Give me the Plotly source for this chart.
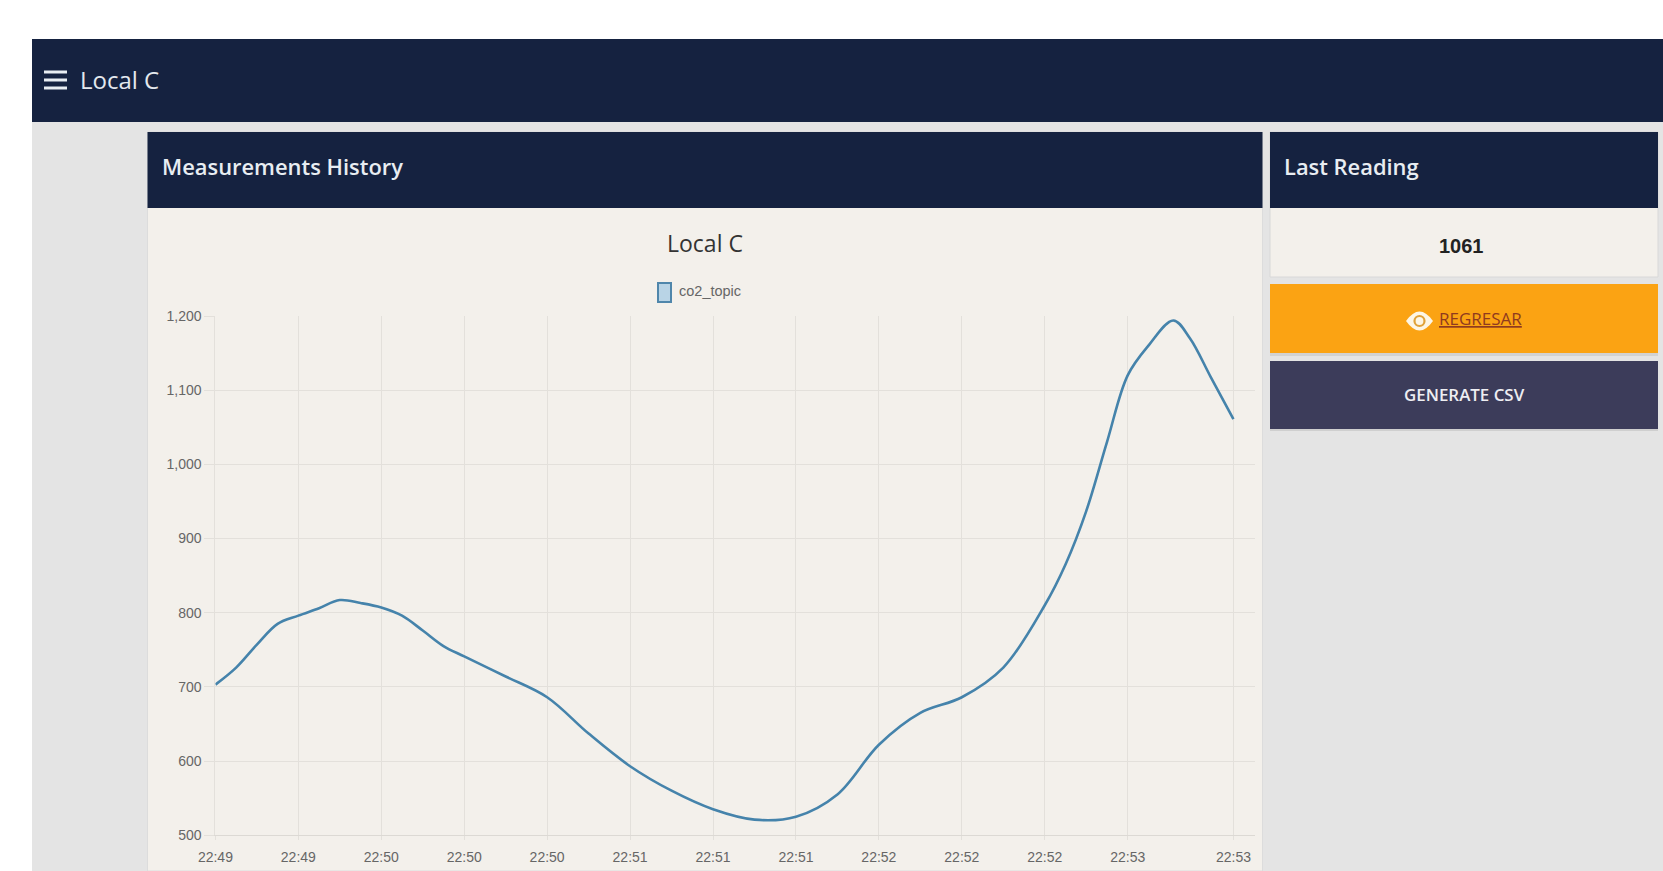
import plotly.graph_objects as go

W, H = 1663, 871
DAY = "2024-01-01 "

series_name = "co2_topic"
times = ["22:49:20","22:49:25","22:49:30","22:49:35","22:49:40","22:49:45","22:49:50","22:49:55",
         "22:50:00","22:50:05","22:50:10","22:50:15","22:50:20","22:50:30","22:50:40","22:50:50",
         "22:51:00","22:51:10","22:51:20","22:51:30","22:51:40","22:51:50","22:52:00","22:52:10",
         "22:52:20","22:52:30","22:52:40","22:52:45","22:52:50","22:52:55","22:53:00","22:53:05",
         "22:53:11","22:53:15","22:53:20","22:53:25.5"]
values = [703,726,757,785,796,806,817,813,
          807,796,776,755,741,714,686,637,
          593,560,535,521,525,555,622,665,
          686,726,810,865,937,1030,1120,1160,
          1194,1170,1118,1061]
tick_times = ["22:49:20","22:49:40","22:50:00","22:50:20","22:50:40","22:51:00","22:51:20",
              "22:51:40","22:52:00","22:52:20","22:52:40","22:53:00","22:53:25.5"]
tick_labels = ["22:49","22:49","22:50","22:50","22:50","22:51","22:51",
               "22:51","22:52","22:52","22:52","22:53","22:53"]
y_ticks = [500,600,700,800,900,1000,1100,1200]

NAVY, CARD, PAGE = "#152240", "#f3f0eb", "#e4e4e4"
GRID = "#e3e0db"
LINE = "#4583ab"

def px(x): return x / W
def py(y): return 1 - y / H

def rect(x0, y0, x1, y1, fill, line=None, lw=1):
    return dict(type="rect", xref="paper", yref="paper", x0=px(x0), x1=px(x1), y0=py(y1), y1=py(y0),
                fillcolor=fill, line=dict(color=line or fill, width=lw if line else 0), layer="below")

shapes = [
    rect(32, 39, W, H, PAGE),
    rect(32, 39, W, 122, NAVY),
    rect(147.5, 132, 1262.5, H, CARD, "#dcdcdc"),
    rect(147.5, 132, 1262.5, 208, NAVY),
    rect(1270, 132, 1658, 277, CARD, "#d8d8d8"),
    rect(1270, 132, 1658, 208, NAVY),
    rect(1270, 286, 1658, 356, "#d2d2d2"),
    rect(1270, 284, 1658, 353, "#fba313"),
    rect(1270, 363, 1658, 431, "#cfcfcf"),
    rect(1270, 361, 1658, 429, "#3c3c5a"),
    rect(44, 70.5, 67, 73.5, "#e8edf2"),
    rect(44, 78.5, 67, 81.5, "#e8edf2"),
    rect(44, 86.5, 67, 89.5, "#e8edf2"),
    rect(658, 283, 671, 302, "#b9d4e6", "#4f86ab", 2),
    dict(type="path", xref="paper", yref="paper", layer="above", fillcolor="#fdf6e6", line=dict(width=0),
         path=f"M {px(1406)} {py(321)} Q {px(1419.5)} {py(302)} {px(1433)} {py(321)} "
              f"Q {px(1419.5)} {py(340)} {px(1406)} {py(321)} Z"),
    dict(type="circle", xref="paper", yref="paper", layer="above", fillcolor="rgba(0,0,0,0)",
         line=dict(color="#e0a23a", width=2.2),
         x0=px(1414.5), x1=px(1424.5), y0=py(326), y1=py(316)),
]

def label(text, x, y, size, color, anchor="left", family="Open Sans", weight=400):
    return dict(text=text, xref="paper", yref="paper", x=px(x), y=py(y), xanchor=anchor, yanchor="middle",
                showarrow=False, font=dict(family=family, size=size, color=color, weight=weight))

annotations = [
    label("Local C", 78, 79.5, 24, "#e3e8ee", weight=500),
    label("Measurements History", 160, 167, 21.9, "#e8edf2", weight=600),
    label("Last Reading", 1282, 167, 21.9, "#e8edf2", weight=600),
    label("Local C", 705, 243, 23, "#333333", "center", weight=500),
    label(series_name, 677, 291, 14.5, "#666666", family="Liberation Sans"),
    label("<b>1061</b>", 1461.5, 246, 20, "#222222", "center", family="Liberation Sans"),
    label("<u>REGRESAR</u>", 1437, 318, 17, "#8f3a1f", weight=500),
    label("GENERATE CSV", 1464, 395, 16.9, "#eeeef2", "center", weight=600),
]

fig = go.Figure(go.Scatter(
    x=[DAY + t for t in times], y=values, mode="lines", name=series_name,
    line=dict(color=LINE, width=2.6, shape="spline", smoothing=1.0),
    showlegend=False,
))

fig.update_layout(
    width=W, height=H, margin=dict(l=0, r=0, t=0, b=0),
    paper_bgcolor="#ffffff", plot_bgcolor="rgba(0,0,0,0)",
    shapes=shapes, annotations=annotations,
    xaxis=dict(type="date", domain=[px(215.4), px(1255)], automargin=False,
               range=[DAY + "22:49:20", DAY + "22:53:30.7"],
               tickmode="array", tickvals=[DAY + t for t in tick_times], ticktext=tick_labels,
               showgrid=True, gridcolor=GRID, gridwidth=1, zeroline=False,
               showline=True, linecolor="#dcd9d4", linewidth=1,
               ticks="outside", ticklen=4, tickcolor=GRID, ticklabelstandoff=5,
               tickfont=dict(family="Liberation Sans", size=14, color="#666666")),
    yaxis=dict(domain=[py(835.2), py(316)], range=[500, 1200], automargin=False,
               tickmode="array", tickvals=y_ticks, tickformat=",d",
               showgrid=True, gridcolor=GRID, gridwidth=1, zeroline=False,
               showline=True, linecolor=GRID, linewidth=1,
               ticks="outside", ticklen=10, tickcolor=GRID, ticklabelstandoff=0,
               tickfont=dict(family="Liberation Sans", size=14, color="#666666")),
)

fig.write_html("out.html", config=dict(displayModeBar=False),
               post_script="document.body.style.margin='0';document.body.style.overflow='hidden';")
